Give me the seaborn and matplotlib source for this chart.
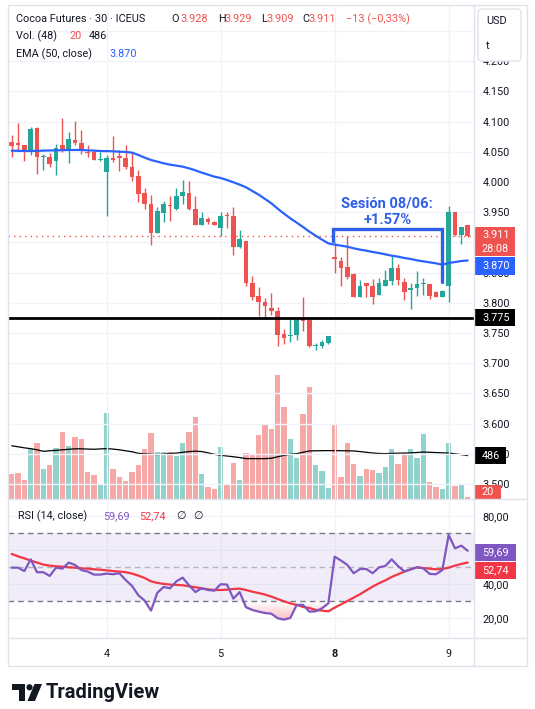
import numpy as np
import pandas as pd
import seaborn as sns
import matplotlib
matplotlib.use("Agg")
import matplotlib.pyplot as plt
from matplotlib.patches import Rectangle, Polygon, Circle, FancyBboxPatch
from matplotlib.path import Path
from matplotlib.colors import LinearSegmentedColormap

W, H = 535, 709

# 30 min candles, Cocoa Futures (ICEUS), 3 Jun (tail) .. 9 Jun
opens = [4.066, 4.065, 4.061, 4.049, 4.089, 4.041, 4.041, 4.034, 4.061, 4.055,
         4.070, 4.064, 4.050, 4.049, 4.036, 4.017, 4.040, 4.043, 4.040, 4.025,
         4.010, 3.981, 3.964, 3.915, 3.949, 3.962, 3.955, 3.976, 3.982, 3.955,
         3.929, 3.939, 3.934, 3.924, 3.944, 3.943, 3.892, 3.902, 3.833, 3.811,
         3.802, 3.791, 3.786, 3.749, 3.745, 3.747, 3.774, 3.772, 3.729, 3.729,
         3.734, 3.876, 3.870, 3.859, 3.848, 3.810, 3.833, 3.828, 3.813, 3.828,
         3.836, 3.857, 3.835, 3.822, 3.824, 3.831, 3.831, 3.818, 3.810, 3.828,
         3.950, 3.912, 3.928]
highs = [4.078, 4.098, 4.061, 4.091, 4.091, 4.046, 4.048, 4.063, 4.106, 4.083,
         4.101, 4.086, 4.061, 4.053, 4.050, 4.045, 4.076, 4.053, 4.061, 4.048,
         4.020, 3.990, 3.979, 3.958, 3.969, 3.976, 3.990, 4.003, 4.001, 3.977,
         3.950, 3.942, 3.936, 3.950, 3.951, 3.959, 3.921, 3.902, 3.844, 3.826,
         3.808, 3.816, 3.793, 3.756, 3.774, 3.774, 3.809, 3.774, 3.734, 3.738,
         3.745, 3.900, 3.876, 3.910, 3.849, 3.837, 3.833, 3.839, 3.841, 3.854,
         3.878, 3.865, 3.841, 3.833, 3.853, 3.841, 3.831, 3.820, 3.822, 3.960,
         3.950, 3.926, 3.929]
lows = [4.042, 4.052, 4.035, 4.044, 4.014, 4.020, 4.025, 4.012, 4.049, 4.032,
        4.062, 4.046, 4.041, 4.036, 4.035, 3.943, 4.033, 4.019, 4.022, 4.002,
        3.967, 3.955, 3.895, 3.915, 3.934, 3.936, 3.953, 3.963, 3.953, 3.929,
        3.929, 3.931, 3.929, 3.910, 3.924, 3.879, 3.890, 3.827, 3.804, 3.778,
        3.774, 3.780, 3.729, 3.731, 3.735, 3.738, 3.754, 3.727, 3.722, 3.726,
        3.732, 3.850, 3.828, 3.839, 3.810, 3.810, 3.810, 3.798, 3.813, 3.828,
        3.829, 3.829, 3.805, 3.789, 3.812, 3.813, 3.807, 3.810, 3.810, 3.801,
        3.911, 3.897, 3.909]
closes = [4.060, 4.062, 4.050, 4.088, 4.042, 4.043, 4.030, 4.056, 4.052, 4.071,
          4.064, 4.052, 4.048, 4.037, 4.038, 4.040, 4.036, 4.039, 4.025, 4.009,
          3.980, 3.964, 3.915, 3.952, 3.964, 3.960, 3.977, 3.983, 3.955, 3.929,
          3.940, 3.934, 3.929, 3.944, 3.943, 3.892, 3.905, 3.833, 3.810, 3.802,
          3.794, 3.787, 3.747, 3.742, 3.747, 3.772, 3.770, 3.729, 3.730, 3.735,
          3.745, 3.873, 3.857, 3.842, 3.810, 3.828, 3.828, 3.810, 3.832, 3.838,
          3.857, 3.837, 3.818, 3.824, 3.831, 3.832, 3.812, 3.810, 3.820, 3.951,
          3.912, 3.926, 3.911]
volumes = [277, 288, 209, 557, 624, 333, 377, 568, 747, 590,
           691, 669, 299, 265, 165, 960, 333, 243, 198, 299,
           377, 557, 736, 521, 523, 524, 478, 624, 747, 915,
           277, 131, 109, 579, 165, 400, 209, 512, 501, 713,
           837, 781, 1385, 1027, 669, 456, 949, 1251, 377, 310,
           120, 825, 243, 624, 389, 254, 333, 321, 288, 355,
           557, 389, 512, 557, 456, 725, 187, 131, 109, 624,
           142, 165, 20]
vol_ma = [596, 585, 573, 564, 551, 534, 540, 545, 551, 557,
          562, 562, 559, 557, 561, 564, 559, 551, 540, 529,
          512, 506, 501, 497, 503, 510, 514, 523, 531, 536,
          531, 517, 501, 489, 482, 473, 464, 452, 452, 452,
          452, 456, 473, 489, 501, 508, 523, 538, 540, 541,
          542, 542, 541, 540, 538, 531, 523, 515, 510, 508,
          511, 513, 515, 516, 521, 526, 523, 520, 517, 515,
          506, 497, 486]
ema50 = [4.0519, 4.0516, 4.0513, 4.0513, 4.0516, 4.0519, 4.0522, 4.0524, 4.0527, 4.0530,
         4.0530, 4.0530, 4.0524, 4.0519, 4.0513, 4.0511, 4.0508, 4.0502, 4.0497, 4.0486,
         4.0447, 4.0403, 4.0364, 4.0337, 4.0309, 4.0287, 4.0271, 4.0254, 4.0226, 4.0193,
         4.0155, 4.0122, 4.0088, 4.0066, 4.0033, 3.9995, 3.9956, 3.9912, 3.9851, 3.9790,
         3.9719, 3.9647, 3.9558, 3.9476, 3.9398, 3.9327, 3.9255, 3.9178, 3.9111, 3.9045,
         3.8984, 3.8962, 3.8946, 3.8929, 3.8902, 3.8880, 3.8863, 3.8841, 3.8824, 3.8802,
         3.8780, 3.8764, 3.8742, 3.8725, 3.8703, 3.8686, 3.8670, 3.8653, 3.8631, 3.8659,
         3.8675, 3.8692, 3.8700]
rsi = [49.7, 49.7, 47.7, 54.6, 47.0, 47.0, 44.8, 49.7, 49.1, 52.7,
       51.3, 48.3, 47.4, 45.6, 45.6, 46.2, 45.8, 46.4, 42.4, 38.9,
       33.4, 30.2, 24.3, 34.9, 38.3, 37.5, 41.6, 43.8, 39.3, 35.3,
       37.5, 36.5, 36.1, 39.9, 39.7, 31.4, 35.3, 26.3, 24.7, 23.7,
       22.9, 22.5, 19.8, 19.0, 20.0, 27.7, 27.7, 23.7, 23.9, 25.7,
       28.6, 56.2, 53.9, 51.3, 46.4, 48.9, 48.9, 46.4, 49.9, 50.7,
       54.6, 50.7, 47.5, 48.7, 49.9, 49.3, 46.0, 45.8, 48.3, 69.0,
       61.1, 62.7, 59.69]
rsi_ma = [57.8, 56.4, 55.2, 53.9, 52.7, 51.5, 50.9, 50.5, 50.3, 49.9,
          49.7, 49.3, 49.1, 48.7, 48.5, 48.1, 47.7, 47.4, 47.0, 46.2,
          45.0, 43.6, 41.6, 40.7, 40.1, 39.7, 39.5, 39.3, 38.7, 38.1,
          37.5, 36.9, 36.5, 36.5, 36.7, 37.1, 37.3, 36.5, 35.5, 34.7,
          33.8, 32.6, 31.2, 29.8, 28.6, 27.7, 26.5, 25.9, 24.7, 24.3,
          23.9, 26.1, 28.0, 30.0, 32.0, 34.0, 36.3, 38.5, 40.5, 42.2,
          44.2, 45.8, 47.4, 48.7, 49.9, 49.5, 49.1, 48.7, 48.9, 49.7,
          50.9, 51.9, 52.74]

day_labels = ["4", "5", "8", "9"]
day_start = [15, 33, 51, 69]          # first bar of each session
price_ticks = [round(3.50 + 0.05 * k, 2) for k in range(16)]
hidden_price_ticks = [3.90]           # sits under the last price tag
rsi_ticks = [20, 40, 60, 80]
support = 3.775
# user drawing "Sesión 08/06"
bracket_x = [50.8, 68.0]
bracket_top, bracket_left_low, bracket_right_low = 3.922, 3.902, 3.835

UP, DOWN = "#26a69a", "#ef5350"
BLUE, PURPLE, RED = "#2962FF", "#7E57C2", "#F23645"
TXT, GRID, BORDER = "#131722", "#f0f3fa", "#e0e3eb"

df = pd.DataFrame(dict(i=np.arange(len(closes)), o=opens, h=highs, l=lows, c=closes,
                       vol=volumes, vol_ma=vol_ma, ema=ema50, rsi=rsi, rsi_ma=rsi_ma))
df["col"] = np.where(df.c >= df.o, UP, DOWN)

sns.set_theme(style="white")
plt.rcParams["font.family"] = ["Roboto", "DejaVu Sans"]

fig = plt.figure(figsize=(W / 100, H / 100), dpi=100)
fig.patch.set_facecolor("white")


def rect(x0, y0, x1, y1):
    return [x0 / W, 1 - y1 / H, (x1 - x0) / W, (y1 - y0) / H]


ax_vol = fig.add_axes(rect(8, 5, 474, 499))
ax = fig.add_axes(rect(8, 5, 474, 499), sharex=ax_vol)
ax_rsi = fig.add_axes(rect(8, 499, 474, 638), sharex=ax_vol)
ax.set_zorder(ax_vol.get_zorder() + 1)
ax.patch.set_visible(False)

# volume (overlay at bottom of price pane)
ax_vol.bar(df.i, df.vol, width=0.8, color=df.col, alpha=0.5, linewidth=0)
sns.lineplot(data=df, x="i", y="vol_ma", ax=ax_vol, color="#000000", linewidth=0.9)
ax_vol.set_ylim(0, 5533)
ax_vol.set_yticks([])

# candles
ax.vlines(df.i, df.l, df.h, colors=df.col, linewidth=1, zorder=3)
body = np.maximum((df.c - df.o).abs(), 0.0016)
ax.bar(df.i, body, bottom=np.minimum(df.o, df.c), width=0.72, color=df.col, linewidth=0, zorder=4)
sns.lineplot(data=df, x="i", y="ema", ax=ax, color=BLUE, linewidth=1.6, zorder=5)
ax.axhline(closes[-1], color=DOWN, linewidth=1, linestyle=(0, (1, 3)), zorder=2)
ax.axhline(support, color="black", linewidth=2, zorder=5)
ax.plot([bracket_x[0], bracket_x[0], bracket_x[1], bracket_x[1]],
        [bracket_left_low, bracket_top, bracket_top, bracket_right_low],
        color="#2f5fe8", linewidth=2.4, solid_joinstyle="miter", zorder=6)
ax.text(59.3, 3.9636, "Sesión 08/06:", color="#2f5fe8", fontsize=10.5, fontweight="bold",
        ha="center", va="center", zorder=7)
ax.text(59.3, 3.9371, "+1.57%", color="#2f5fe8", fontsize=10.5, fontweight="bold",
        ha="center", va="center", zorder=7)
ax.set_ylim(3.4752, 4.2930)
ax.yaxis.tick_right()
ax.set_yticks(price_ticks)
ax.set_yticklabels(["" if v in hidden_price_ticks else f"{v:.3f}" for v in price_ticks])
ax.grid(True, color=GRID, linewidth=1)
ax.set_axisbelow(True)

# RSI pane
ax_rsi.axhspan(30, 70, color=PURPLE, alpha=0.1, linewidth=0)
for lvl, a in [(70, 1.0), (50, 0.5), (30, 1.0)]:
    ax_rsi.axhline(lvl, color="#787B86", alpha=a, linewidth=1, linestyle=(0, (4, 3)))
rsi_arr = np.array(rsi)
fill = ax_rsi.fill_between(df.i, rsi_arr, 30, where=rsi_arr < 30, interpolate=True,
                           facecolor="none", edgecolor="none")
clip = Path.make_compound_path(*fill.get_paths())
cmap = LinearSegmentedColormap.from_list("os", [(0.949, 0.212, 0.271, 0.9), (0.949, 0.212, 0.271, 0.0)])
im = ax_rsi.imshow(np.linspace(0, 1, 256).reshape(-1, 1), extent=[0, len(rsi) - 1, 0, 30],
                   origin="lower", aspect="auto", cmap=cmap, zorder=2)
im.set_clip_path(clip, ax_rsi.transData)
sns.lineplot(data=df, x="i", y="rsi_ma", ax=ax_rsi, color=RED, linewidth=1.6, zorder=4)
sns.lineplot(data=df, x="i", y="rsi", ax=ax_rsi, color=PURPLE, linewidth=1.6, zorder=5)
ax_rsi.set_ylim(8.14, 90.27)
ax_rsi.yaxis.tick_right()
ax_rsi.set_yticks(rsi_ticks)
# 60,00 is covered by the RSI value tags
ax_rsi.set_yticklabels(["" if v == 60 else f"{v},00" for v in rsi_ticks])
ax_rsi.grid(True, color=GRID, linewidth=1)
ax_rsi.set_axisbelow(True)

ax_rsi.set_xlim(-0.584, 73.0)
ax_rsi.set_xticks(day_start)
ax_rsi.set_xticklabels(day_labels)
ax_rsi.get_xticklabels()[2].set_fontweight("bold")

for a in (ax, ax_vol, ax_rsi):
    for s in a.spines.values():
        s.set_visible(False)
    a.set_xlabel("")
    a.set_ylabel("")
    a.tick_params(axis="both", length=0, labelsize=7.8, labelcolor=TXT, pad=6)
ax.tick_params(axis="x", labelbottom=False)
ax_vol.tick_params(axis="x", labelbottom=False)
ax_rsi.tick_params(axis="x", pad=8)

# overlay in pixel coordinates: frame, legends, price labels, logo
ov = fig.add_axes([0, 0, 1, 1])
ov.set_xlim(0, W)
ov.set_ylim(H, 0)
ov.axis("off")
ov.set_zorder(20)
ov.patch.set_alpha(0)


def ypx(axis, v):
    return H - axis.transData.transform((0, v))[1]


ov.add_patch(Rectangle((8, 5), 519, 661, fill=False, edgecolor=BORDER, linewidth=1))
ov.plot([474, 474], [5, 666], color=BORDER, linewidth=1)
ov.plot([8, 527], [499, 499], color=BORDER, linewidth=1)
ov.plot([8, 527], [638, 638], color=BORDER, linewidth=1)

ov.add_patch(FancyBboxPatch((478, 9), 43, 52, boxstyle="round,pad=0,rounding_size=4",
                            facecolor="white", edgecolor=BORDER, linewidth=1))
ov.text(486, 21, "USD", fontsize=7.8, color=TXT, va="center")
ov.text(486, 46, "t", fontsize=7.8, color=TXT, va="center")


def tag(y0, y1, x1, color, lines):
    ov.add_patch(Rectangle((475, y0), x1 - 475, y1 - y0, facecolor=color, edgecolor="none"))
    step = (y1 - y0) / len(lines)
    for k, s in enumerate(lines):
        ov.text(482, y0 + step * (k + 0.5), s, fontsize=7.8, color="white", va="center")


yc = ypx(ax, closes[-1])
tag(yc - 8.5, yc + 20.5, 515, DOWN, [f"{closes[-1]:.3f}", "28:08"])
tag(yc + 21.5, yc + 39.5, 515, BLUE, [f"{ema50[-1]:.3f}"])
ys = ypx(ax, support)
tag(ys - 8.5, ys + 8.5, 515, "#000000", [f"{support:.3f}"])
yv = ypx(ax_vol, vol_ma[-1])
tag(yv - 8.5, yv + 8.5, 506, "#000000", [f"{vol_ma[-1]}"])
tag(485, 499, 501, DOWN, [f"{volumes[-1]}"])
yr = ypx(ax_rsi, rsi[-1])
tag(yr - 7, yr + 10, 516, PURPLE, [f"{rsi[-1]:.2f}".replace(".", ",")])
tag(yr + 11, yr + 28, 516, RED, [f"{rsi_ma[-1]:.2f}".replace(".", ",")])

legend = [
    (19, [(16.5, "Cocoa Futures · 30 · ICEUS", TXT), (171.5, "O", TXT), (180.7, "3.928", DOWN),
          (218, "H", TXT), (224.6, "3.929", DOWN), (261.3, "L", TXT), (266.8, "3.909", DOWN),
          (302.5, "C", TXT), (308.6, "3.911", DOWN), (346.4, "−13 (−0,33%)", DOWN)]),
    (36, [(16.5, "Vol. (48)", TXT), (69.3, "20", DOWN), (88.5, "486", TXT)]),
    (54, [(16.5, "EMA (50, close)", TXT), (109, "3.870", BLUE)]),
    (516, [(17.8, "RSI (14, close)", TXT), (103, "59,69", PURPLE), (139, "52,74", RED),
           (176.6, "∅", TXT), (192.7, "∅", TXT)]),
]
for y, parts in legend:
    for x, s, c in parts:
        ov.text(x, y, s, fontsize=7.8, color=c, va="center")

# TradingView logo
ov.add_patch(Polygon([(12, 684), (25, 684), (25, 701), (19, 701), (19, 690), (12, 690)],
                     closed=True, facecolor=TXT, edgecolor="none"))
ov.add_patch(Circle((29.5, 687.3), 3.1, facecolor=TXT, edgecolor="none"))
ov.add_patch(Polygon([(34.5, 684), (42, 684), (35, 701), (27.5, 701)],
                     closed=True, facecolor=TXT, edgecolor="none"))
ov.text(46, 692.5, "TradingView", fontsize=14.5, fontweight="bold", color=TXT, va="center")

fig.savefig("out.png", dpi=100, facecolor="white")
